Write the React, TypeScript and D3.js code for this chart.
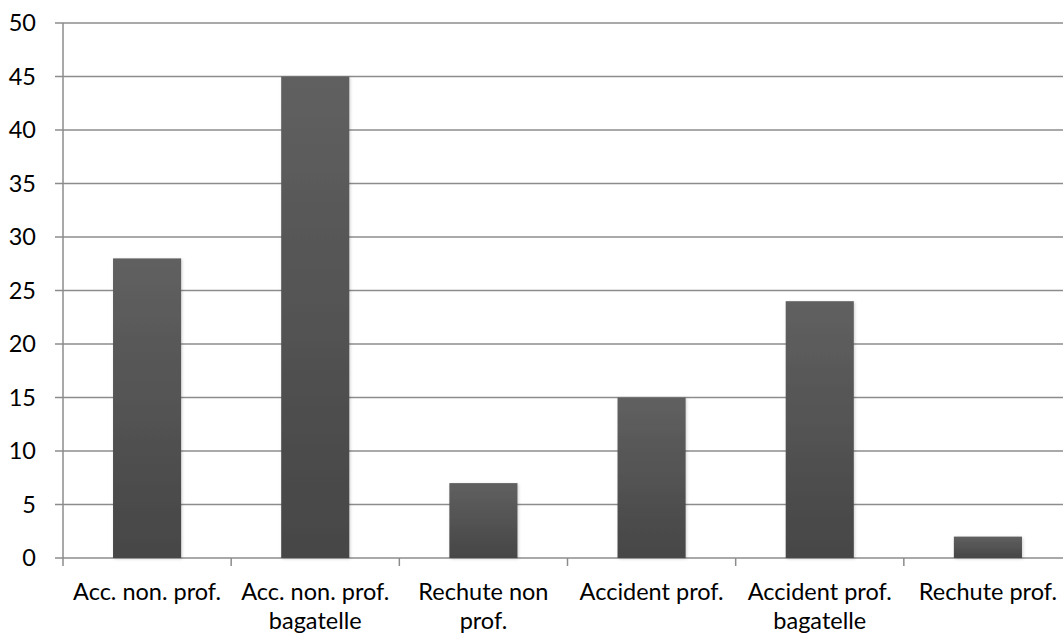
import React, { useEffect, useRef } from 'react';
import * as d3 from 'd3';

// data
const categories = [
  'Acc. non. prof.',
  'Acc. non. prof. bagatelle',
  'Rechute non prof.',
  'Accident prof.',
  'Accident prof. bagatelle',
  'Rechute prof.',
];
const categoryLines = [
  ['Acc. non. prof.'],
  ['Acc. non. prof.', 'bagatelle'],
  ['Rechute non', 'prof.'],
  ['Accident prof.'],
  ['Accident prof.', 'bagatelle'],
  ['Rechute prof.'],
];
const values = [28, 45, 7, 15, 24, 2];
const yTicks = [0, 5, 10, 15, 20, 25, 30, 35, 40, 45, 50];

const W = 1063;
const H = 635;

function App() {
  const ref = useRef<SVGSVGElement>(null);

  useEffect(() => {
    const svg = d3.select(ref.current);
    svg.selectAll('*').remove();

    const left = 63;
    const right = 1072; // plot runs past the window edge like the original
    const top = 23;
    const bottom = 558;
    const font = 'Lato, "Open Sans", sans-serif';
    const fontSize = 23.5;
    const gridColor = '#8c8c8c';

    const x = d3.scaleBand().domain(categories).range([left, right]).padding(0);
    const y = d3.scaleLinear().domain([0, 50]).range([bottom, top]);
    const barW = x.bandwidth() * 0.405;

    const defs = svg.append('defs');
    const grad = defs.append('linearGradient')
      .attr('id', 'barGrad')
      .attr('x1', 0).attr('y1', 0).attr('x2', 0).attr('y2', 1);
    grad.append('stop').attr('offset', '0%').attr('stop-color', '#606060');
    grad.append('stop').attr('offset', '100%').attr('stop-color', '#464646');

    const shadow = defs.append('filter').attr('id', 'shadow')
      .attr('x', '-10%').attr('y', '-10%').attr('width', '130%').attr('height', '130%');
    shadow.append('feDropShadow')
      .attr('dx', 1).attr('dy', 1).attr('stdDeviation', 1.5)
      .attr('flood-color', '#000').attr('flood-opacity', 0.18);

    // gridlines
    svg.append('g')
      .selectAll('line')
      .data(yTicks)
      .enter()
      .append('line')
      .attr('x1', left - 8)
      .attr('x2', right)
      .attr('y1', d => y(d))
      .attr('y2', d => y(d))
      .attr('stroke', gridColor)
      .attr('stroke-width', 1.5);

    // y labels
    svg.append('g')
      .selectAll('text')
      .data(yTicks)
      .enter()
      .append('text')
      .attr('x', 36)
      .attr('y', d => y(d))
      .attr('dy', '0.36em')
      .attr('text-anchor', 'end')
      .attr('font-family', font)
      .attr('font-size', fontSize)
      .attr('fill', '#000')
      .text(d => d);

    // vertical axis
    svg.append('line')
      .attr('x1', left).attr('x2', left)
      .attr('y1', top).attr('y2', bottom + 8)
      .attr('stroke', gridColor).attr('stroke-width', 1.5);

    // x ticks at band boundaries
    svg.append('g')
      .selectAll('line')
      .data(categories.slice(1))
      .enter()
      .append('line')
      .attr('x1', d => x(d)!)
      .attr('x2', d => x(d)!)
      .attr('y1', bottom)
      .attr('y2', bottom + 8)
      .attr('stroke', gridColor)
      .attr('stroke-width', 1.5);

    // bars
    svg.append('g')
      .selectAll('rect')
      .data(values)
      .enter()
      .append('rect')
      .attr('x', (d, i) => x(categories[i])! + (x.bandwidth() - barW) / 2)
      .attr('y', d => y(d))
      .attr('width', barW)
      .attr('height', d => bottom - y(d))
      .attr('fill', 'url(#barGrad)')
      .attr('filter', 'url(#shadow)');

    // category labels
    const labels = svg.append('g')
      .selectAll('text')
      .data(categoryLines)
      .enter()
      .append('text')
      .attr('text-anchor', 'middle')
      .attr('font-family', font)
      .attr('font-size', fontSize)
      .attr('fill', '#000');

    labels.each(function (lines, i) {
      const t = d3.select(this);
      const cx = x(categories[i])! + x.bandwidth() / 2;
      lines.forEach((ln, j) => {
        t.append('tspan')
          .attr('x', cx)
          .attr('y', 600 + j * 29)
          .text(ln);
      });
    });
  }, []);

  return (
    <svg
      ref={ref}
      width={W}
      height={H}
      style={{ position: 'absolute', left: 0, top: 0, background: '#fff' }}
    />
  );
}

export default App;
